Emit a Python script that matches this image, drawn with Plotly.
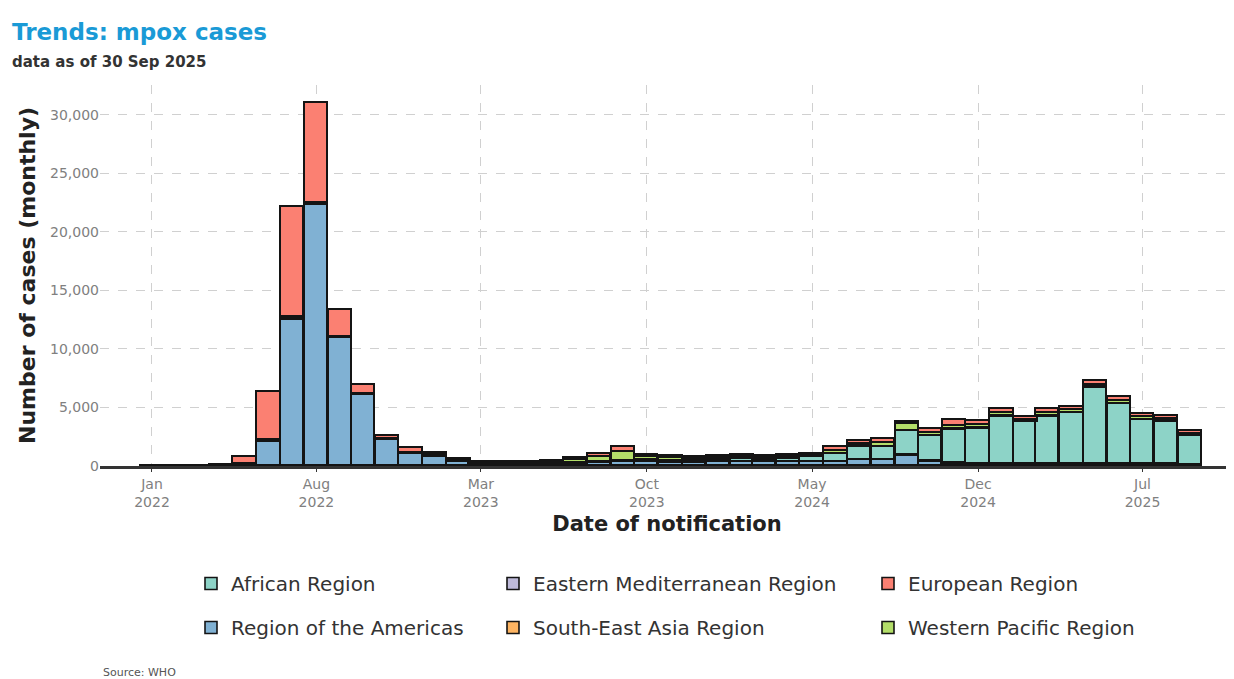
import plotly.graph_objects as go

months = [
    "2022-01-01", "2022-02-01", "2022-03-01", "2022-04-01", "2022-05-01", "2022-06-01",
    "2022-07-01", "2022-08-01", "2022-09-01", "2022-10-01", "2022-11-01", "2022-12-01",
    "2023-01-01", "2023-02-01", "2023-03-01", "2023-04-01", "2023-05-01", "2023-06-01",
    "2023-07-01", "2023-08-01", "2023-09-01", "2023-10-01", "2023-11-01", "2023-12-01",
    "2024-01-01", "2024-02-01", "2024-03-01", "2024-04-01", "2024-05-01", "2024-06-01",
    "2024-07-01", "2024-08-01", "2024-09-01", "2024-10-01", "2024-11-01", "2024-12-01",
    "2025-01-01", "2025-02-01", "2025-03-01", "2025-04-01", "2025-05-01", "2025-06-01",
    "2025-07-01", "2025-08-01", "2025-09-01",
]

americas = [0, 0, 0, 0, 120, 2050, 12500, 22300, 10900, 6100, 2200, 1000,
            800, 350, 130, 120, 90, 120, 200, 250, 300, 300, 280, 270,
            300, 320, 300, 320, 300, 300, 480, 480, 850, 380, 200, 150,
            150, 120, 150, 150, 150, 150, 150, 130, 100]
south_east_asia = [0, 0, 0, 0, 0, 5, 10, 5, 5, 5, 5, 5,
                   10, 10, 5, 5, 5, 5, 10, 10, 20, 20, 20, 20,
                   20, 20, 20, 20, 20, 20, 20, 20, 50, 20, 20, 20,
                   20, 20, 20, 20, 20, 20, 20, 20, 10]
african = [20, 20, 30, 40, 60, 80, 100, 80, 60, 50, 40, 50,
           40, 50, 40, 40, 40, 50, 60, 60, 100, 150, 150, 180,
           200, 220, 220, 250, 450, 680, 1150, 1100, 2100, 2160, 2880, 3030,
           4030, 3660, 4030, 4330, 6530, 5100, 3760, 3650, 2450]
eastern_med = [0, 0, 0, 0, 5, 20, 15, 10, 5, 5, 5, 5,
               10, 10, 5, 5, 5, 5, 10, 10, 10, 10, 10, 10,
               10, 10, 10, 10, 10, 20, 20, 30, 30, 20, 30, 30,
               30, 20, 30, 30, 30, 30, 30, 20, 20]
western_pacific = [0, 0, 0, 0, 10, 40, 80, 60, 40, 30, 30, 60,
                   90, 100, 70, 120, 110, 170, 220, 450, 750, 270, 240, 190,
                   180, 180, 160, 150, 100, 260, 210, 300, 520, 220, 320, 240,
                   270, 130, 270, 220, 190, 220, 200, 200, 170]
european = [0, 0, 0, 30, 600, 4150, 9450, 8550, 2300, 700, 320, 380,
            150, 80, 50, 60, 60, 70, 150, 220, 470, 150, 150, 130,
            140, 150, 140, 150, 150, 320, 280, 350, 250, 400, 450, 380,
            350, 200, 350, 320, 380, 350, 280, 250, 250]

tick_dates = ["2022-01-01", "2022-08-01", "2023-03-01", "2023-10-01",
              "2024-05-01", "2024-12-01", "2025-07-01"]
tick_labels = ["Jan<br>2022", "Aug<br>2022", "Mar<br>2023", "Oct<br>2023",
               "May<br>2024", "Dec<br>2024", "Jul<br>2025"]
y_ticks = [0, 5000, 10000, 15000, 20000, 25000, 30000]

# stacking order bottom -> top
series = [
    ("Region of the Americas", americas, "#80B1D3", "legend", 2),
    ("South-East Asia Region", south_east_asia, "#FDB462", "legend2", 2),
    ("African Region", african, "#8DD3C7", "legend", 1),
    ("Eastern Mediterranean Region", eastern_med, "#BEBADA", "legend2", 1),
    ("Western Pacific Region", western_pacific, "#B3DE69", "legend3", 2),
    ("European Region", european, "#FB8072", "legend3", 1),
]

FONT = "DejaVu Sans"
OFF = 8  # page body margin
W, H = 1234 - OFF, 679 - OFF
L, R, T = 100 - OFF, 0, 85 - OFF
B = H - (466 - OFF)
PW, PH = W - L - R, H - T - B


def px_x(page_px):
    return (page_px - OFF - L) / PW


def px_y(page_py):
    return (H - B - (page_py - OFF)) / PH


bar_width_ms = 30 * 24 * 3600 * 1000

fig = go.Figure()
for name, vals, color, leg, rank in series:
    fig.add_trace(go.Bar(
        x=months, y=vals, name=name, width=bar_width_ms,
        marker=dict(color=color, line=dict(color="#141414", width=1.6)),
        legend=leg, legendrank=rank, legendgroup=name,
    ))

legend_common = dict(
    orientation="v", xref="paper", yref="paper", yanchor="top",
    xanchor="left", font=dict(family=FONT, size=20, color="#333333"),
    bgcolor="rgba(0,0,0,0)", traceorder="grouped", tracegroupgap=15,
)
legend_top = px_y(564)

fig.update_layout(
    barmode="stack",
    width=W, height=H,
    margin=dict(l=L, r=R, t=T, b=B),
    paper_bgcolor="white", plot_bgcolor="white",
    font=dict(family=FONT, color="#333333"),
    bargap=0,
    legend=dict(x=px_x(191), y=legend_top, **legend_common),
    legend2=dict(x=px_x(493), y=legend_top, **legend_common),
    legend3=dict(x=px_x(868), y=legend_top, **legend_common),
    xaxis=dict(
        type="date",
        range=["2021-10-26", "2025-10-27"],
        tickvals=tick_dates, ticktext=tick_labels,
        tickfont=dict(family=FONT, size=14, color="#808080"),
        showgrid=True, gridcolor="#d0d0d0", griddash="dash", gridwidth=1,
        showline=True, linecolor="#333333", linewidth=2.5,
        ticks="outside", ticklen=3, tickcolor="#333333",
        title=dict(text="<b>Date of notification</b>",
                   font=dict(family=FONT, size=21, color="#222222"), standoff=8),
        zeroline=False,
    ),
    yaxis=dict(
        range=[0, 32550],
        tickvals=y_ticks, tickformat=",",
        tickfont=dict(family=FONT, size=14, color="#808080"),
        showgrid=True, gridcolor="#d0d0d0", griddash="dash", gridwidth=1,
        showline=False, zeroline=False, ticks="", ticklen=0,
        title=dict(text="<b>Number of cases (monthly)</b>",
                   font=dict(family=FONT, size=22, color="#222222"), standoff=8),
    ),
    annotations=[
        dict(text="<b>Trends: mpox cases</b>", xref="paper", yref="paper",
             x=px_x(10), y=px_y(32), xanchor="left", yanchor="middle",
             showarrow=False,
             font=dict(family=FONT, size=23, color="#1a9ad6")),
        dict(text="<b>data as of 30 Sep 2025</b>", xref="paper", yref="paper",
             x=px_x(10), y=px_y(62), xanchor="left", yanchor="middle",
             showarrow=False,
             font=dict(family=FONT, size=15, color="#333333")),
        dict(text="Source: WHO", xref="paper", yref="paper",
             x=px_x(101), y=px_y(672), xanchor="left", yanchor="middle",
             showarrow=False, font=dict(family=FONT, size=11, color="#555555")),
    ],
)

fig.write_html("out.html")
